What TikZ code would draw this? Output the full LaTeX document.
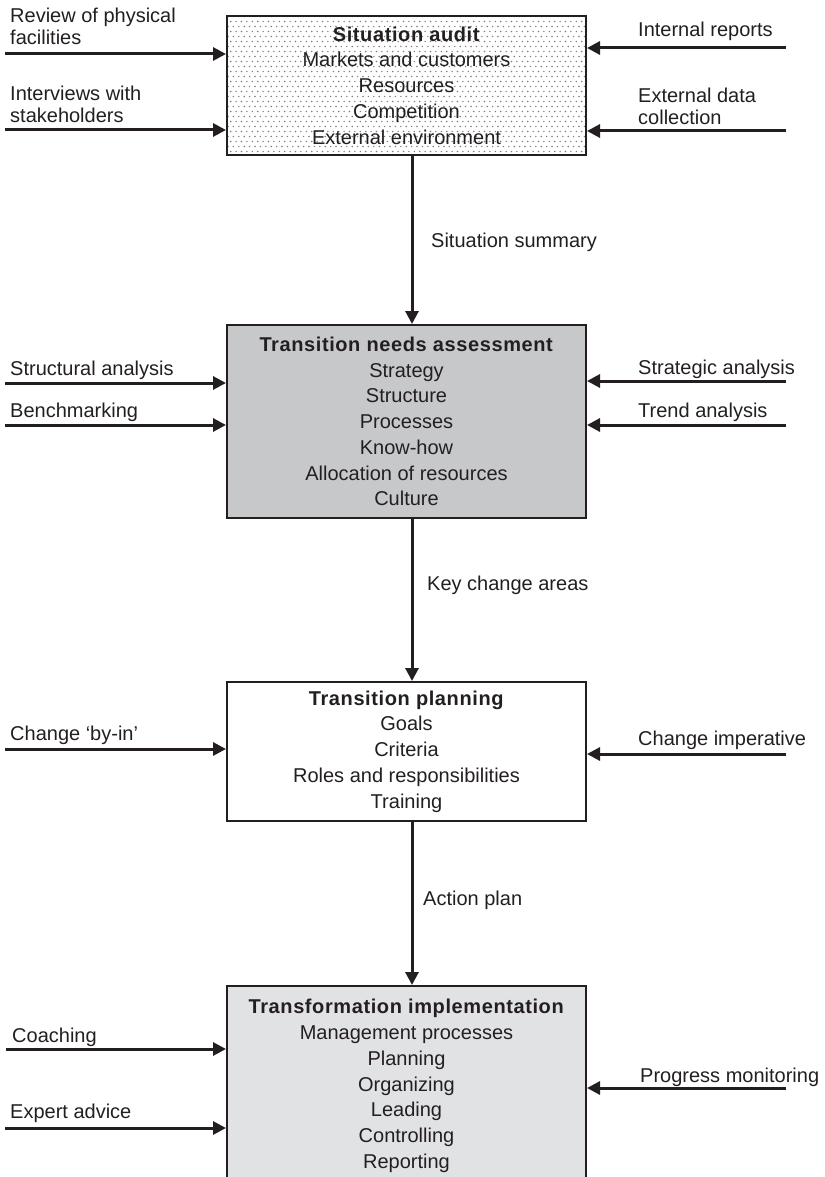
\documentclass[tikz,border=0pt]{standalone}
\usepackage{fontspec}
\setmainfont{Liberation Sans}[BoldFeatures={LetterSpace=3}]
\usetikzlibrary{arrows.meta,backgrounds}
\definecolor{ink}{HTML}{231F20}
\definecolor{needsgray}{HTML}{C7C8CA}
\definecolor{implgray}{HTML}{E1E2E4}
\definecolor{dotgray}{HTML}{7E7E80}

\begin{document}
\begin{tikzpicture}[x=1pt,y=-1pt,
  stage/.style={draw=ink, line width=2pt, minimum width=359pt, anchor=north,
    align=center, inner sep=0pt, text=ink,
    font=\fontsize{20}{25.75}\selectfont},
  feed/.style={anchor=base west, align=left, inner sep=0pt, text=ink,
    font=\fontsize{20}{22.5}\selectfont},
  flow/.style={draw=ink, line width=3pt, -{Triangle[length=13pt,width=13pt]}},
  inlet/.style={draw=ink, line width=3pt, -{Triangle[length=13pt,width=13pt]}},
]
\useasboundingbox (0,0) rectangle (824,1177);
\clip (0,0) rectangle (824,1177);

% ---- the four stages ----
\node[stage, minimum height=139pt] (audit) at (406.5,15)
  {\textbf{Situation audit}\\Markets and customers\\Resources\\Competition\\External environment};
\node[stage, fill=needsgray, minimum height=193pt] (needs) at (406.5,324)
  {\textbf{Transition needs assessment}\\Strategy\\Structure\\Processes\\Know-how\\Allocation of resources\\Culture};
\node[stage, fill=white, minimum height=139pt] (plan) at (406.5,681)
  {\textbf{Transition planning}\\Goals\\Criteria\\Roles and responsibilities\\Training};
\node[stage, fill=implgray, minimum height=200pt] (impl) at (406.5,985)
  {\textbf{Transformation implementation}\\Management processes\\Planning\\Organizing\\Leading\\Controlling\\Reporting};

% stippled fill of the audit box
\begin{scope}[on background layer]
  \clip (audit.north west) rectangle (audit.south east);
  \foreach \j in {0,...,28} {
    \foreach \i in {0,...,67} {
      \fill[dotgray] ({228+5.4*\i+2.7*mod(\j,2)},{16.5+5*\j}) circle (0.8pt);
    }
  }
\end{scope}

% ---- main flow ----
\draw[flow] ([xshift=5.5pt]audit.south) -- ([xshift=5.5pt]needs.north);
\draw[flow] ([xshift=5.5pt]needs.south) -- ([xshift=5.5pt]plan.north);
\draw[flow] ([xshift=5.5pt]plan.south) -- ([xshift=5.5pt]impl.north);
\node[feed] (lsum) at (431,247) {Situation summary};
\node[feed] (lkey) at (427,590) {Key change areas};
\node[feed] (lact) at (423,905) {Action plan};

% ---- inputs to the situation audit (base = last line) ----
\node[feed] (rev) at (10,45) {Review of physical\\facilities};
\node[feed] (intv) at (10,123) {Interviews with\\stakeholders};
\node[feed] (intr) at (638,37) {Internal reports};
\node[feed] (extd) at (638,125) {External data\\collection};
\coordinate (s1) at (5,54);
\coordinate (s2) at (5,130);
\coordinate (s3) at (786,48);
\coordinate (s4) at (786,131);
\draw[inlet] (s1) -- (s1 -| audit.west);
\draw[inlet] (s2) -- (s2 -| audit.west);
\draw[inlet] (s3) -- (s3 -| audit.east);
\draw[inlet] (s4) -- (s4 -| audit.east);

% ---- inputs to the needs assessment ----
\node[feed] (stru) at (10,375) {Structural analysis};
\node[feed] (bench) at (10,417) {Benchmarking};
\node[feed] (strat) at (638,374) {Strategic analysis};
\node[feed] (trend) at (638,417) {Trend analysis};
\coordinate (n1) at (5,383);
\coordinate (n2) at (5,425);
\coordinate (n3) at (786,381);
\coordinate (n4) at (786,425);
\draw[inlet] (n1) -- (n1 -| needs.west);
\draw[inlet] (n2) -- (n2 -| needs.west);
\draw[inlet] (n3) -- (n3 -| needs.east);
\draw[inlet] (n4) -- (n4 -| needs.east);

% ---- inputs to the planning ----
\node[feed] (buy) at (10,740) {Change ‘by-in’};
\node[feed] (imp) at (638,745) {Change imperative};
\coordinate (p1) at (5,749);
\coordinate (p2) at (786,754);
\draw[inlet] (p1) -- (p1 -| plan.west);
\draw[inlet] (p2) -- (p2 -| plan.east);

% ---- inputs to the implementation ----
\node[feed] (coach) at (12,1042) {Coaching};
\node[feed] (expert) at (10,1118) {Expert advice};
\node[feed] (prog) at (640,1082) {Progress monitoring};
\coordinate (i1) at (6,1049);
\coordinate (i2) at (5,1128);
\coordinate (i3) at (786,1088);
\draw[inlet] (i1) -- (i1 -| impl.west);
\draw[inlet] (i2) -- (i2 -| impl.west);
\draw[inlet] (i3) -- (i3 -| impl.east);
\end{tikzpicture}
\end{document}
